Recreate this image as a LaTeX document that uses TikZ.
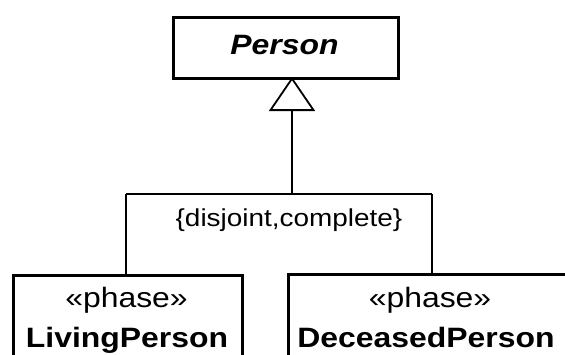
\documentclass[tikz,border=0pt]{standalone}
\usepackage{fontspec}
\setmainfont{Liberation Sans}[FakeStretch=1.14]
\usetikzlibrary{arrows.meta}
\begin{document}
\begin{tikzpicture}[x=1pt,y=-1pt,
  classbox/.style={draw=black, line width=2.6pt, fill=white, inner sep=0pt},
  link/.style={draw=black, line width=1.6pt},
  gen/.style={link, -{Triangle[open, length=34pt, width=46pt, line width=1.8pt]}},
  classname/.style={font=\fontsize{28}{32}\selectfont\bfseries, inner sep=0pt, anchor=base},
  stereo/.style={font=\fontsize{28}{32}\selectfont, inner sep=0pt, anchor=base},
  constraint/.style={font=\fontsize{24.5}{28}\selectfont, inner sep=0pt, anchor=base}]
\useasboundingbox (0,0) rectangle (565,354);
\clip (0,0) rectangle (565,354);

% abstract supertype
\node[classbox, minimum width=225pt, minimum height=61pt, anchor=north west] (person) at (172,16) {};
\node[classname, font=\fontsize{28}{32}\selectfont\bfseries\itshape] (personname) at (284.5,54) {Person};

% phase subtypes
\node[classbox, minimum width=229pt, minimum height=110pt, anchor=north west] (living) at (12,274) {};
\node[stereo] (livingst) at (126.5,307) {«phase»};
\node[classname] (livingname) at (127,347) {LivingPerson};

\node[classbox, minimum width=286pt, minimum height=110pt, anchor=north west] (deceased) at (287,273) {};
\node[stereo] (deceasedst) at (430,307) {«phase»};
\node[classname] (deceasedname) at (426,347) {DeceasedPerson};

% generalization set
\coordinate (apex) at (292,77);
\coordinate (fork) at (292,194);
\coordinate (forkL) at (126,194);
\coordinate (forkR) at (432,194);
\draw[link] (forkL) -- (forkR);
\draw[link] (forkL) -- (forkL |- living.north);
\draw[link] (forkR) -- (forkR |- deceased.north);
\draw[gen] (fork) -- (apex);
\node[constraint] (gset) at (289,226) {\{disjoint,complete\}};
\end{tikzpicture}
\end{document}
